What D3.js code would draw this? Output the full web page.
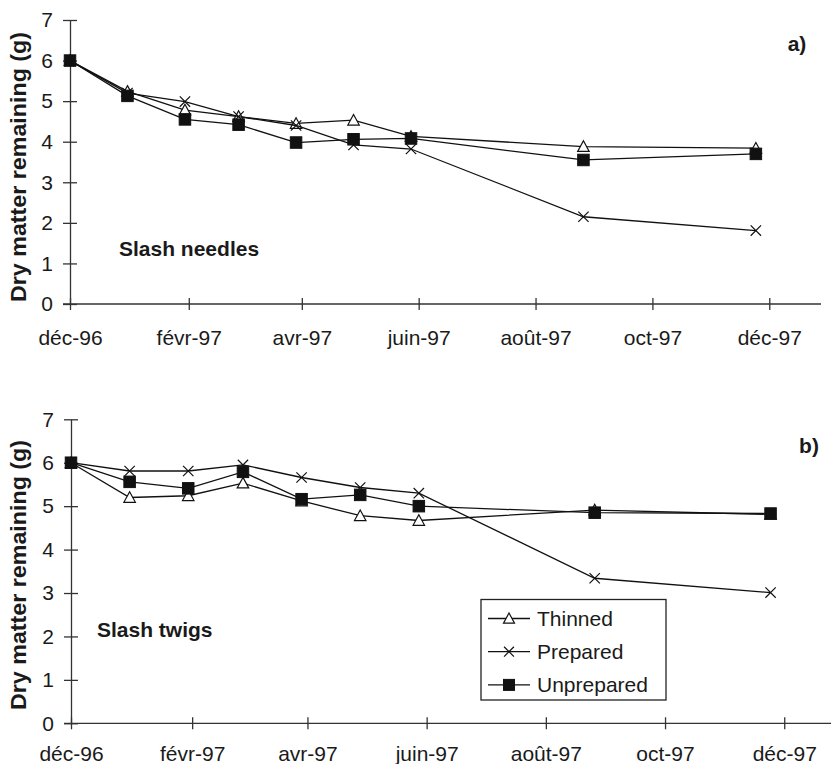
<!DOCTYPE html>
<html>
<head>
<meta charset="UTF-8">
<title>Dry matter remaining</title>
<style type="text/css">
	body { margin: 0; background: #fff; }
	svg text { font-family: "Liberation Sans", Arial, sans-serif; fill: #1a1a1a; }
</style>
</head>
<body>
<svg class="chart"></svg>
<script src="https://cdn.jsdelivr.net/npm/d3@7"></script>
<script type="text/javascript">
	// sampling dates (same for both panels)
	var sampleDates = ["1996-12-01", "1996-12-31", "1997-01-30", "1997-02-27", "1997-03-29",
		"1997-04-28", "1997-05-28", "1997-08-26", "1997-11-24"];

	var tickDates = ["1996-12-01", "1997-02-01", "1997-04-01", "1997-06-01", "1997-08-01", "1997-10-01", "1997-12-01"];
	var tickLabels = ["déc-96", "févr-97", "avr-97", "juin-97", "août-97", "oct-97", "déc-97"];
	var yTicks = [0, 1, 2, 3, 4, 5, 6, 7];

	var seriesNames = ["Thinned", "Prepared", "Unprepared"];

	// a) slash needles
	var needlesThinned = [6.0, 5.24, 4.78, 4.62, 4.45, 4.53, 4.13, 3.88, 3.84];
	var needlesPrepared = [6.0, 5.2, 4.99, 4.62, 4.40, 3.92, 3.82, 2.15, 1.81];
	var needlesUnprepared = [6.0, 5.13, 4.55, 4.42, 3.98, 4.06, 4.08, 3.55, 3.70];

	// b) slash twigs
	var twigsThinned = [6.0, 5.20, 5.24, 5.53, 5.12, 4.78, 4.67, 4.91, 4.81];
	var twigsPrepared = [6.0, 5.81, 5.81, 5.95, 5.66, 5.43, 5.30, 3.34, 3.01];
	var twigsUnprepared = [6.0, 5.56, 5.41, 5.79, 5.16, 5.26, 5.00, 4.85, 4.83];

	var width = 831, height = 764;
	var svg = d3.select(".chart").attr("width", width).attr("height", height);
	var parse = d3.timeParse("%Y-%m-%d");
	var dates = sampleDates.map(parse);
	var ticks = tickDates.map(parse);
	var domainX = [parse("1996-12-01"), parse("1997-12-28")];

	var panels = [
		{ left: 70, right: 821, top: 20, bottom: 304, tickPad: 20, label: "a)", lx: 797, ly: 44,
			name: "Slash needles", nx: 119, ny: 249, titleX: 18, titleY: 167, legend: false,
			data: [needlesThinned, needlesPrepared, needlesUnprepared] },
		{ left: 71, right: 837, top: 419.3, bottom: 723.3, tickPad: 17, label: "b)", lx: 809, ly: 446,
			name: "Slash twigs", nx: 97, ny: 630, titleX: 18, titleY: 575, legend: true,
			data: [twigsThinned, twigsPrepared, twigsUnprepared] }
	];

	function drawMarker(g, kind, s) {
		if(kind === 0) {
			g.append("path")
				.attr("d", "M0," + (-s * 0.5) + "L" + (s * 0.5) + "," + (s * 0.42) + "L" + (-s * 0.5) + "," + (s * 0.42) + "Z")
				.attr("fill", "#fff").attr("stroke", "#111").attr("stroke-width", 1.2);
		} else if(kind === 1) {
			var h = s * 0.45;
			g.append("path")
				.attr("d", "M" + (-h) + "," + (-h) + "L" + h + "," + h + "M" + (-h) + "," + h + "L" + h + "," + (-h))
				.attr("fill", "none").attr("stroke", "#111").attr("stroke-width", 1.2);
		} else {
			g.append("rect")
				.attr("x", -s / 2).attr("y", -s / 2).attr("width", s).attr("height", s)
				.attr("fill", "#111").attr("stroke", "#111").attr("stroke-width", 1);
		}
	}

	panels.forEach(function(p) {
		var x = d3.scaleTime().domain(domainX).range([p.left, p.right]);
		var y = d3.scaleLinear().domain([0, 7]).range([p.bottom, p.top]);
		var g = svg.append("g");

		// x axis
		var xAxis = d3.axisBottom(x).tickValues(ticks)
			.tickFormat(function(d, i) { return tickLabels[i]; })
			.tickSizeInner(6).tickSizeOuter(0).tickPadding(p.tickPad);
		var gx = g.append("g").attr("transform", "translate(0," + p.bottom + ")").call(xAxis);
		gx.select(".domain").attr("d", "M" + (p.left - 7) + ",0H" + p.right);
		gx.selectAll(".tick line").attr("y1", -6);

		// y axis
		var yAxis = d3.axisLeft(y).tickValues(yTicks).tickFormat(d3.format("d"))
			.tickSizeInner(7).tickSizeOuter(0).tickPadding(10);
		var gy = g.append("g").attr("transform", "translate(" + p.left + ",0)").call(yAxis);
		gy.selectAll(".tick line").attr("x1", 7);

		g.selectAll(".domain, .tick line").attr("stroke", "#333").attr("stroke-width", 1.3);
		g.selectAll(".tick text").attr("font-size", 21).attr("fill", "#1a1a1a")
			.attr("font-family", "Liberation Sans, Arial, sans-serif");

		// y title
		g.append("text")
			.attr("transform", "translate(" + p.titleX + "," + p.titleY + ") rotate(-90)")
			.attr("text-anchor", "middle").attr("dy", "0.35em")
			.attr("font-size", 21.5).attr("font-weight", "bold")
			.attr("textLength", 270).attr("lengthAdjust", "spacingAndGlyphs")
			.text("Dry matter remaining (g)");

		g.append("text").attr("x", p.lx).attr("y", p.ly).attr("dy", "0.35em")
			.attr("text-anchor", "middle").attr("font-size", 21).attr("font-weight", "bold").text(p.label);
		g.append("text").attr("x", p.nx).attr("y", p.ny).attr("dy", "0.35em")
			.attr("font-size", 21).attr("font-weight", "bold").text(p.name);

		var line = d3.line()
			.x(function(d, i) { return x(dates[i]); })
			.y(function(d) { return y(d); });

		p.data.forEach(function(vals, k) {
			g.append("path").datum(vals)
				.attr("d", line).attr("fill", "none")
				.attr("stroke", "#111").attr("stroke-width", 1.3);
			vals.forEach(function(v, i) {
				var m = g.append("g").attr("transform", "translate(" + x(dates[i]) + "," + y(v) + ")");
				drawMarker(m, k, 11.5);
			});
		});

		if(p.legend) {
			var lg = g.append("g");
			lg.append("rect").attr("x", 481).attr("y", 599.5).attr("width", 185).attr("height", 100.5)
				.attr("fill", "#fff").attr("stroke", "#222").attr("stroke-width", 1.3);
			seriesNames.forEach(function(name, k) {
				var ry = 618.5 + k * 33.2;
				lg.append("line").attr("x1", 488).attr("x2", 530).attr("y1", ry).attr("y2", ry)
					.attr("stroke", "#111").attr("stroke-width", 1.3);
				drawMarker(lg.append("g").attr("transform", "translate(509," + ry + ")"), k, 11);
				lg.append("text").attr("x", 537).attr("y", ry).attr("dy", "0.36em")
					.attr("font-size", 21).text(name);
			});
		}
	});
</script>
</body>
</html>
